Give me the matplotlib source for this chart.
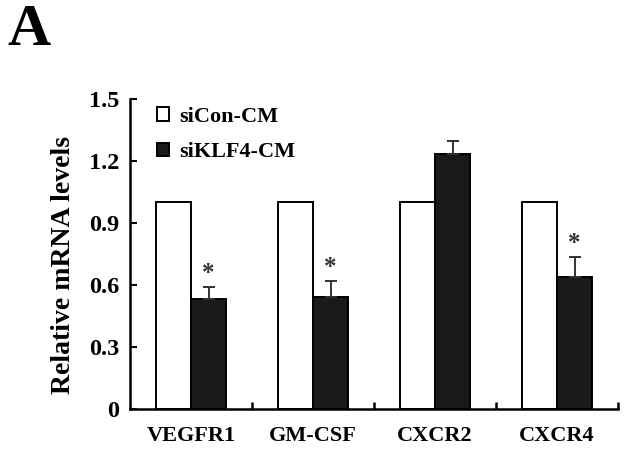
import numpy as np
import matplotlib
matplotlib.use("Agg")
import matplotlib.pyplot as plt

genes = ["VEGFR1", "GM-CSF", "CXCR2", "CXCR4"]
sicon = [1.0, 1.0, 1.0, 1.0]
siklf4 = [0.53, 0.54, 1.235, 0.64]
siklf4_err = [0.06, 0.08, 0.06, 0.095]
signif = [True, True, False, True]
yticks = [0, 0.3, 0.6, 0.9, 1.2, 1.5]
ytick_labels = ["0", "0.3", "0.6", "0.9", "1.2", "1.5"]

plt.rcParams["font.family"] = ["Liberation Serif", "DejaVu Serif"]
plt.rcParams["font.weight"] = "bold"

fig = plt.figure(figsize=(6.29, 4.49), dpi=100)
ax = fig.add_axes([0.2067, 0.089, 0.7758, 0.6906])

x = np.arange(len(genes)) + 0.5
w = 0.29
ax.bar(x - w/2, sicon, w, color="white", edgecolor="black", linewidth=1.4, label="siCon-CM")
ax.bar(x + w/2, siklf4, w, color="#1a1a1a", edgecolor="black", linewidth=1.4, label="siKLF4-CM")
ax.errorbar(x + w/2, siklf4, yerr=[np.zeros(len(genes)), siklf4_err], fmt="none",
            ecolor="#333333", elinewidth=1.4, capsize=4, capthick=1.4)

for xi, v, e, s in zip(x, siklf4, siklf4_err, signif):
    if s:
        ax.text(xi + w/2, v + e + 0.01, "*", ha="center", va="bottom", fontsize=18, color="#333333")

ax.set_xlim(0, len(genes))
ax.set_ylim(0, 1.5)
ax.set_yticks(yticks)
ax.set_yticklabels(ytick_labels, fontsize=17.5, fontweight="bold")
ax.set_xticks(x)
ax.set_xticklabels(genes, fontsize=16, fontweight="bold")
ax.set_xticks(np.arange(1, len(genes) + 1), minor=True)
ax.tick_params(axis="x", which="major", length=0, pad=12)
ax.tick_params(axis="x", which="minor", direction="in", length=5, width=1.8)
ax.tick_params(axis="y", direction="in", length=5, width=1.5, pad=8)
ax.set_ylabel("Relative mRNA levels", fontsize=20, fontweight="bold")
ax.yaxis.set_label_coords(-0.11, 0.465)

for side in ["top", "right"]:
    ax.spines[side].set_visible(False)
for side in ["left", "bottom"]:
    ax.spines[side].set_linewidth(1.8)

ax.legend(loc="upper left", bbox_to_anchor=(0.014, 1.039), frameon=False,
          handlelength=0.55, handleheight=0.55, handletextpad=0.45, labelspacing=0.7,
          prop={"size": 16, "weight": "bold"})

fig.text(0.011, 1 - 4/449, "A", fontsize=43, fontweight="bold", va="top", ha="left")

fig.savefig("out.png", dpi=100)
